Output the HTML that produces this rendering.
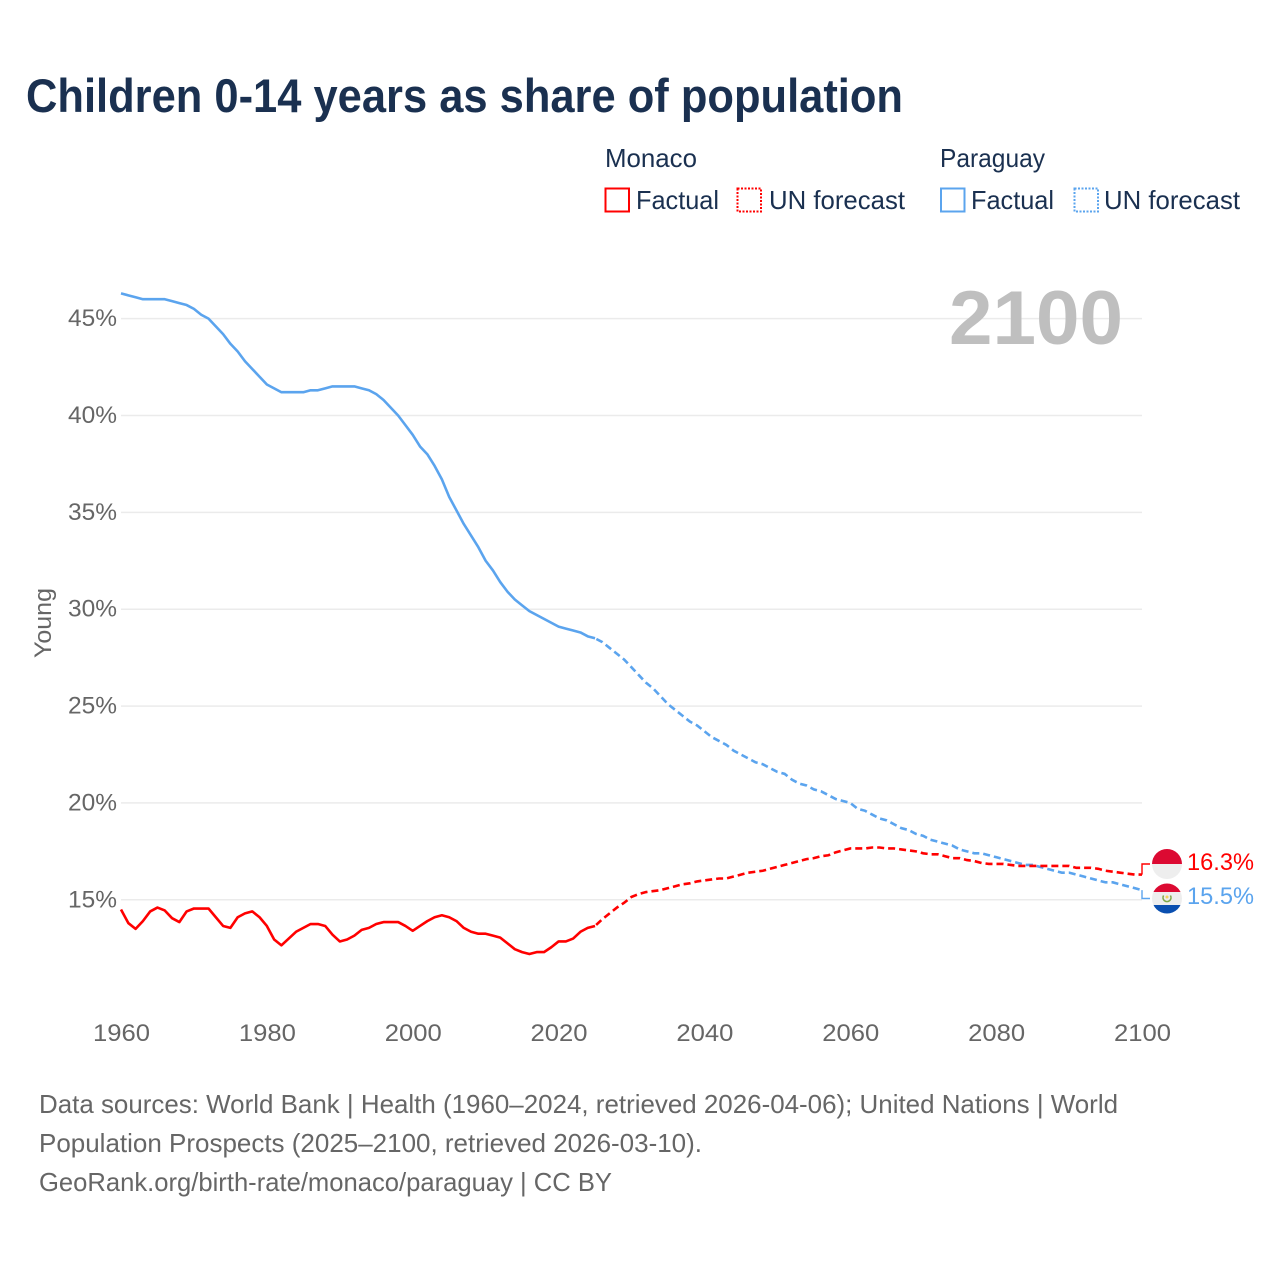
<!DOCTYPE html>
<html lang="en">
<head>
<meta charset="utf-8">
<title>Children 0-14 years as share of population</title>
<style>
html,body{margin:0;padding:0;background:#fff;}
svg{display:block;}
text{font-family:"Liberation Sans",sans-serif;}
</style>
</head>
<body>
<svg id="chart" xmlns="http://www.w3.org/2000/svg" width="1280" height="1280" viewBox="0 0 1280 1280">
  <defs>
    <clipPath id="clip-monaco"><circle cx="1167" cy="864" r="15"/></clipPath>
    <clipPath id="clip-paraguay"><circle cx="1167" cy="898.5" r="15"/></clipPath>
  </defs>
  <rect width="1280" height="1280" fill="#fff"/>
  <text x="26" y="112" font-size="47" font-weight="700" fill="#1a3050" textLength="877" lengthAdjust="spacingAndGlyphs">Children 0-14 years as share of population</text>

  <g font-size="26" fill="#1a3050">
    <text x="605" y="167" textLength="92" lengthAdjust="spacingAndGlyphs">Monaco</text>
    <text x="940" y="167" textLength="105" lengthAdjust="spacingAndGlyphs">Paraguay</text>
    <rect x="605.5" y="188.5" width="23.5" height="23" fill="none" stroke="#ff0000" stroke-width="2"/>
    <text x="636" y="209" textLength="83" lengthAdjust="spacingAndGlyphs">Factual</text>
    <rect x="737.5" y="188.5" width="23.5" height="23" fill="none" stroke="#ff0000" stroke-width="2" stroke-dasharray="2 1.5"/>
    <text x="769" y="209" textLength="136" lengthAdjust="spacingAndGlyphs">UN forecast</text>
    <rect x="941" y="188.5" width="23.5" height="23" fill="none" stroke="#5ba4ee" stroke-width="2"/>
    <text x="971" y="209" textLength="83" lengthAdjust="spacingAndGlyphs">Factual</text>
    <rect x="1074.5" y="188.5" width="23.5" height="23" fill="none" stroke="#5ba4ee" stroke-width="2" stroke-dasharray="2 1.5"/>
    <text x="1104" y="209" textLength="136" lengthAdjust="spacingAndGlyphs">UN forecast</text>
  </g>

  <g id="grid"></g>
  <g id="y-axis"></g>
  <g id="x-axis"></g>
  <text x="0" y="0" transform="translate(51,658) rotate(-90)" font-size="24" fill="#666666" textLength="70" lengthAdjust="spacingAndGlyphs">Young</text>
  <text x="949" y="344" font-size="76" font-weight="700" fill="#bfbfbf" textLength="174" lengthAdjust="spacingAndGlyphs">2100</text>

  <g id="series"></g>

  <g clip-path="url(#clip-monaco)">
    <rect x="1150" y="848" width="34" height="16" fill="#dc0a32"/>
    <rect x="1150" y="864" width="34" height="16" fill="#eeeeee"/>
  </g>
  <g clip-path="url(#clip-paraguay)">
    <rect x="1150" y="883" width="34" height="9" fill="#dc0a32"/>
    <rect x="1150" y="892" width="34" height="13" fill="#eeeeee"/>
    <rect x="1150" y="905" width="34" height="10" fill="#0a4fb0"/>
    <path d="M1163.6 895.5 A4 4 0 1 0 1170.4 895.5" fill="none" stroke="#7fa84a" stroke-width="1.6"/>
    <circle cx="1167" cy="897" r="1.5" fill="#f4d35e"/>
  </g>

  <g id="end-labels"></g>

  <g font-size="26" fill="#666666">
    <text x="39" y="1113" textLength="1079" lengthAdjust="spacingAndGlyphs">Data sources: World Bank | Health (1960–2024, retrieved 2026-04-06); United Nations | World</text>
    <text x="39" y="1152" textLength="663" lengthAdjust="spacingAndGlyphs">Population Prospects (2025–2100, retrieved 2026-03-10).</text>
    <text x="39" y="1191" textLength="573" lengthAdjust="spacingAndGlyphs">GeoRank.org/birth-rate/monaco/paraguay | CC BY</text>
  </g>
</svg>
<script>
const xTickYears = [1960, 1980, 2000, 2020, 2040, 2060, 2080, 2100];
const yTickValues = [15, 20, 25, 30, 35, 40, 45];
const factualStartYear = 1960;
const forecastStartYear = 2025;

const monacoFactual = [14.5,13.8,13.5,13.9,14.4,14.6,14.45,14.05,13.85,14.4,14.55,14.55,14.55,14.1,13.65,13.55,14.1,14.3,14.4,14.1,13.65,12.95,12.65,13.0,13.35,13.55,13.75,13.75,13.65,13.2,12.85,12.95,13.15,13.45,13.55,13.75,13.85,13.85,13.85,13.65,13.4,13.65,13.9,14.1,14.2,14.1,13.9,13.55,13.35,13.25,13.25,13.15,13.05,12.75,12.45,12.3,12.2,12.3,12.3,12.55,12.85,12.85,13.0,13.35,13.55,13.65];
const monacoForecast = [13.65,14.0,14.3,14.6,14.85,15.15,15.3,15.4,15.45,15.5,15.6,15.7,15.8,15.85,15.95,16.0,16.05,16.1,16.1,16.2,16.3,16.4,16.45,16.5,16.6,16.7,16.8,16.9,17.0,17.1,17.15,17.25,17.3,17.45,17.55,17.65,17.65,17.65,17.7,17.7,17.65,17.65,17.6,17.55,17.5,17.4,17.35,17.35,17.25,17.15,17.15,17.05,17.0,16.9,16.85,16.85,16.85,16.8,16.75,16.75,16.75,16.75,16.75,16.75,16.75,16.75,16.65,16.65,16.65,16.6,16.5,16.45,16.4,16.35,16.3,16.3];
const paraguayFactual = [46.3,46.2,46.1,46.0,46.0,46.0,46.0,45.9,45.8,45.7,45.5,45.2,45.0,44.6,44.2,43.7,43.3,42.8,42.4,42.0,41.6,41.4,41.2,41.2,41.2,41.2,41.3,41.3,41.4,41.5,41.5,41.5,41.5,41.4,41.3,41.1,40.8,40.4,40.0,39.5,39.0,38.4,38.0,37.4,36.7,35.8,35.1,34.4,33.8,33.2,32.5,32.0,31.4,30.9,30.5,30.2,29.9,29.7,29.5,29.3,29.1,29.0,28.9,28.8,28.6,28.5];
const paraguayForecast = [28.5,28.3,28.0,27.7,27.4,27.0,26.6,26.2,25.9,25.5,25.1,24.8,24.5,24.2,24.0,23.7,23.4,23.2,23.0,22.7,22.5,22.3,22.1,22.0,21.8,21.6,21.5,21.2,21.0,20.9,20.7,20.6,20.4,20.2,20.1,20.0,19.7,19.6,19.4,19.2,19.1,18.9,18.7,18.6,18.4,18.3,18.1,18.0,17.9,17.8,17.6,17.5,17.4,17.4,17.3,17.2,17.1,17.0,16.9,16.8,16.8,16.7,16.6,16.5,16.4,16.4,16.3,16.2,16.1,16.0,15.9,15.9,15.8,15.7,15.6,15.5];
const endLabelValues = [16.3, 15.5];

const NS = 'http://www.w3.org/2000/svg';
const xScale = function (year) { return 121 + (year - 1960) * (1142 - 121) / 140; };
const yScale = function (value) { return 899.8 - (value - 15) * (899.8 - 318.6) / 30; };

function svgEl(tag, parentId) {
  const el = document.createElementNS(NS, tag);
  document.getElementById(parentId).appendChild(el);
  return el;
}

yTickValues.forEach(function (value) {
  const line = svgEl('line', 'grid');
  
  
  line.setAttribute('x1', xScale(1960));
  line.setAttribute('x2', xScale(2100));
  line.setAttribute('y1', yScale(value));
  line.setAttribute('y2', yScale(value));
  line.setAttribute('stroke', '#ebebeb');
  line.setAttribute('stroke-width', '1.5');

  const label = svgEl('text', 'y-axis');
  
  
  label.setAttribute('x', 68);
  label.setAttribute('y', yScale(value) + 7.5);
  label.setAttribute('font-size', '24');
  label.setAttribute('fill', '#666666');
  label.setAttribute('textLength', '49');
  label.setAttribute('lengthAdjust', 'spacingAndGlyphs');
  label.textContent = value + '%';
});

xTickYears.forEach(function (year) {
  const label = svgEl('text', 'x-axis');
  
  
  label.setAttribute('x', xScale(year) - 28);
  label.setAttribute('y', 1041);
  label.setAttribute('font-size', '24');
  label.setAttribute('fill', '#666666');
  label.setAttribute('textLength', '57');
  label.setAttribute('lengthAdjust', 'spacingAndGlyphs');
  label.textContent = String(year);
});

function linePath(values, startYear) {
  return values.map(function (value, i) {
    return (i ? 'L' : 'M') + xScale(startYear + i).toFixed(2) + ' ' + yScale(value).toFixed(2);
  }).join('');
}

const paraguayFactualLine = svgEl('path', 'series');


paraguayFactualLine.setAttribute('d', linePath(paraguayFactual, factualStartYear));
paraguayFactualLine.setAttribute('fill', 'none');
paraguayFactualLine.setAttribute('stroke', '#5ba4ee');
paraguayFactualLine.setAttribute('stroke-width', '2.6');
paraguayFactualLine.setAttribute('stroke-linejoin', 'round');

const paraguayForecastLine = svgEl('path', 'series');


paraguayForecastLine.setAttribute('d', linePath(paraguayForecast, forecastStartYear));
paraguayForecastLine.setAttribute('fill', 'none');
paraguayForecastLine.setAttribute('stroke', '#5ba4ee');
paraguayForecastLine.setAttribute('stroke-width', '2.6');
paraguayForecastLine.setAttribute('stroke-dasharray', '0 1.5 7 2.5');

const monacoFactualLine = svgEl('path', 'series');


monacoFactualLine.setAttribute('d', linePath(monacoFactual, factualStartYear));
monacoFactualLine.setAttribute('fill', 'none');
monacoFactualLine.setAttribute('stroke', '#ff0000');
monacoFactualLine.setAttribute('stroke-width', '2.6');
monacoFactualLine.setAttribute('stroke-linejoin', 'round');

const monacoForecastLine = svgEl('path', 'series');


monacoForecastLine.setAttribute('d', linePath(monacoForecast, forecastStartYear));
monacoForecastLine.setAttribute('fill', 'none');
monacoForecastLine.setAttribute('stroke', '#ff0000');
monacoForecastLine.setAttribute('stroke-width', '2.6');
monacoForecastLine.setAttribute('stroke-dasharray', '0 1.5 7 2.5');

const monacoEndY = yScale(monacoForecast[monacoForecast.length - 1]);
const monacoConnector = svgEl('path', 'series');


monacoConnector.setAttribute('d', 'M' + xScale(2100) + ' ' + monacoEndY + 'V864H1150');
monacoConnector.setAttribute('fill', 'none');
monacoConnector.setAttribute('stroke', '#ff0000');
monacoConnector.setAttribute('stroke-width', '1.4');

const paraguayEndY = yScale(paraguayForecast[paraguayForecast.length - 1]);
const paraguayConnector = svgEl('path', 'series');


paraguayConnector.setAttribute('d', 'M' + xScale(2100) + ' ' + paraguayEndY + 'V898.5H1150');
paraguayConnector.setAttribute('fill', 'none');
paraguayConnector.setAttribute('stroke', '#5ba4ee');
paraguayConnector.setAttribute('stroke-width', '1.4');

const monacoLabel = svgEl('text', 'end-labels');


monacoLabel.setAttribute('x', 1187);
monacoLabel.setAttribute('y', 870);
monacoLabel.setAttribute('font-size', '24');
monacoLabel.setAttribute('fill', '#ff0000');
monacoLabel.setAttribute('textLength', '67');
monacoLabel.setAttribute('lengthAdjust', 'spacingAndGlyphs');
monacoLabel.textContent = endLabelValues[0].toFixed(1) + '%';

const paraguayLabel = svgEl('text', 'end-labels');


paraguayLabel.setAttribute('x', 1187);
paraguayLabel.setAttribute('y', 904);
paraguayLabel.setAttribute('font-size', '24');
paraguayLabel.setAttribute('fill', '#5ba4ee');
paraguayLabel.setAttribute('textLength', '67');
paraguayLabel.setAttribute('lengthAdjust', 'spacingAndGlyphs');
paraguayLabel.textContent = endLabelValues[1].toFixed(1) + '%';
</script>
</body>
</html>
